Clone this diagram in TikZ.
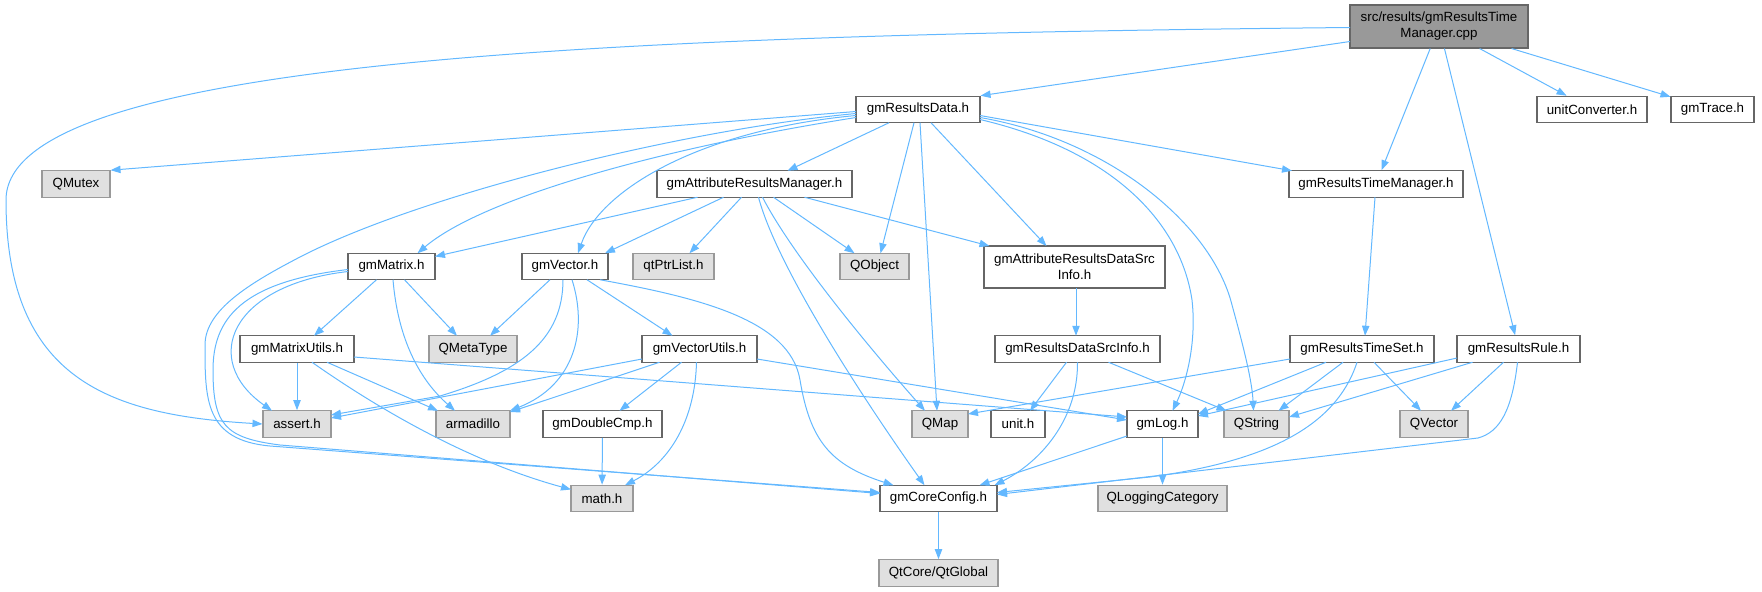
\documentclass[tikz,border=0pt]{standalone}
\usepackage{fontspec}
\setmainfont{Liberation Sans}
\usetikzlibrary{arrows.meta,calc}
\definecolor{edgec}{HTML}{63B8FF}
\definecolor{bordw}{HTML}{666666}
\definecolor{borde}{HTML}{999999}
\definecolor{extfill}{HTML}{E0E0E0}
\definecolor{mainfill}{HTML}{999999}
\begin{document}
\begin{tikzpicture}[x=0.75pt,y=-0.75pt,
  nd/.style={draw=bordw, fill=white, line width=0.8pt, minimum height=19.9pt, inner sep=0pt,
             font=\fontsize{10}{12}\selectfont, align=center},
  ext/.style={nd, draw=borde, fill=extfill},
  bw/.style={minimum width=#1*0.75pt},
  dep/.style={draw=edgec, line width=0.75pt, -{Triangle[length=7.5pt,width=5.5pt]}}]
\useasboundingbox (0,0) rectangle (1762,592);

% nodes
\node[nd, fill=mainfill, bw=178, minimum height=32.25pt] (main) at (1439,26.5) {src/results/gmResultsTime\\Manager.cpp};
\node[nd, bw=124] (rd) at (918,109.5) {gmResultsData.h};
\node[nd, bw=110] (uc) at (1592,109.5) {unitConverter.h};
\node[nd, bw=83] (tr) at (1712.5,109.5) {gmTrace.h};
\node[ext, bw=68] (qmutex) at (76,184) {QMutex};
\node[nd, bw=195] (arm) at (754.5,184) {gmAttributeResultsManager.h};
\node[nd, bw=174] (rtm) at (1376,184) {gmResultsTimeManager.h};
\node[nd, bw=87] (mat) at (391.5,266.5) {gmMatrix.h};
\node[nd, bw=86] (vec) at (565,266.5) {gmVector.h};
\node[ext, bw=81] (ptr) at (673.5,266.5) {qtPtrList.h};
\node[ext, bw=69] (qobj) at (874.5,266.5) {QObject};
\node[nd, bw=181, minimum height=31.5pt] (ards) at (1074.5,267) {gmAttributeResultsDataSrc\\Info.h};
\node[nd, bw=114] (mu) at (297,349) {gmMatrixUtils.h};
\node[ext, bw=88] (qmeta) at (473,349) {QMetaType};
\node[nd, bw=115] (vu) at (699.5,349) {gmVectorUtils.h};
\node[nd, bw=165] (rdsi) at (1077.5,349) {gmResultsDataSrcInfo.h};
\node[nd, bw=144] (rts) at (1362,349) {gmResultsTimeSet.h};
\node[nd, bw=123] (rr) at (1518.5,349) {gmResultsRule.h};
\node[ext, bw=68] (assert) at (297,424) {assert.h};
\node[ext, bw=74] (armad) at (473,424) {armadillo};
\node[nd, bw=119] (dc) at (602.5,424) {gmDoubleCmp.h};
\node[ext, bw=56] (qmap) at (940,424) {QMap};
\node[nd, bw=54] (unit) at (1018,424) {unit.h};
\node[nd, bw=71] (log) at (1162.5,424) {gmLog.h};
\node[ext, bw=65] (qstr) at (1256.5,424) {QString};
\node[ext, bw=68] (qvec) at (1434,424) {QVector};
\node[ext, bw=62] (math) at (602,498.5) {math.h};
\node[nd, bw=117] (cc) at (938.5,498.5) {gmCoreConfig.h};
\node[ext, bw=129] (qlog) at (1162.5,498.5) {QLoggingCategory};
\node[ext, bw=119] (qtg) at (938.5,573) {QtCore/QtGlobal};

% main edges
\draw[dep] ($(main)+(-89,1)$) .. controls (600,35) and (6,60) .. (6,200) .. controls (6,380) and (110,415) .. (assert.west);
\draw[dep] ($(main)+(-89,15)$) -- (rd.north east);
\draw[dep] (main) -- (rtm);
\draw[dep] (main) -- (rr);
\draw[dep] (main) -- (uc);
\draw[dep] (main) -- (tr);

% gmResultsData edges
\draw[dep] ($(rd)+(-62,2)$) -- (qmutex.north east);
\draw[dep] ($(rd)+(-62,4)$) .. controls (680,130) and (420,195) .. (300,257) .. controls (250,283) and (205,310) .. (205,345) .. controls (205,400) and (205,440) .. (270,446) -- ($(cc)+(-58.5,-6)$);
\draw[dep] ($(rd)+(-62,8)$) .. controls (650,150) and (480,200) .. ($(mat)+(26,-13.25)$);
\draw[dep] ($(rd)+(-62,6)$) .. controls (700,130) and (600,190) .. ($(vec)+(13,-13.25)$);
\draw[dep] ($(rd)+(-29,13.25)$) -- ($(arm)+(33,-13.25)$);
\draw[dep] ($(rd)+(-4,13.25)$) -- ($(qobj)+(6,-13.25)$);
\draw[dep] ($(rd)+(2,13.25)$) -- ($(qmap)+(-3,-13.25)$);
\draw[dep] ($(rd)+(13,13.25)$) -- ($(ards)+(-28,-21)$);
\draw[dep] ($(rd)+(62,10)$) .. controls (1110,150) and (1180,220) .. (1192,300) .. controls (1197,345) and (1185,385) .. ($(log)+(10,-13.25)$);
\draw[dep] ($(rd)+(62,8)$) .. controls (1110,140) and (1212,225) .. (1232,305) .. controls (1243,345) and (1252,380) .. ($(qstr)+(-3,-13.25)$);
\draw[dep] ($(rd)+(62,6)$) -- ($(rtm)+(-84,-13.25)$);

% gmAttributeResultsManager edges
\draw[dep] ($(arm)+(-57,13.25)$) -- ($(mat)+(43.5,-10)$);
\draw[dep] ($(arm)+(-31,13.25)$) -- ($(vec)+(40,-13.25)$);
\draw[dep] ($(arm)+(-13,13.25)$) -- ($(ptr)+(16,-13.25)$);
\draw[dep] ($(arm)+(4,13.25)$) .. controls (775,260) and (850,380) .. ($(cc)+(-14,-13.25)$);
\draw[dep] ($(arm)+(8,13.25)$) .. controls (795,260) and (880,360) .. ($(qmap)+(-15,-13.25)$);
\draw[dep] ($(arm)+(19,13.25)$) -- ($(qobj)+(-20,-13.25)$);
\draw[dep] ($(arm)+(50,13.25)$) -- ($(ards)+(-85,-21)$);

\draw[dep] ($(ards)+(1.5,21)$) -- ($(rdsi)+(-1.5,-13.25)$);

% gmMatrix edges
\draw[dep] ($(mat)+(-15,13.25)$) -- ($(mu)+(17,-13.25)$);
\draw[dep] ($(mat)+(13,13.25)$) -- ($(qmeta)+(-16,-13.25)$);
\draw[dep] ($(mat)+(1.5,13.25)$) .. controls (398,340) and (420,380) .. ($(armad)+(-18,-13.25)$);
\draw[dep] ($(mat)+(-43.5,5)$) .. controls (230,285) and (200,360) .. ($(assert)+(-25,-13.25)$);
\draw[dep] ($(mat)+(-43.5,3)$) .. controls (240,282) and (213,320) .. (213,370) .. controls (213,425) and (225,438) .. (280,445) -- ($(cc)+(-58.5,-5)$);

% gmVector edges
\draw[dep] ($(vec)+(-15,13.25)$) -- ($(qmeta)+(17,-13.25)$);
\draw[dep] ($(vec)+(-2,13.25)$) .. controls (563,340) and (520,372) .. (440,396) -- ($(assert)+(34,-9)$);
\draw[dep] ($(vec)+(7,13.25)$) .. controls (588,330) and (575,385) .. ($(armad)+(37,-13.25)$);
\draw[dep] ($(vec)+(22,13.25)$) -- ($(vu)+(-27,-13.25)$);
\draw[dep] ($(vec)+(35,13.25)$) .. controls (700,298) and (790,320) .. (800,380) .. controls (810,440) and (830,465) .. ($(cc)+(-45,-13.25)$);

% gmMatrixUtils edges
\draw[dep] (mu) -- (assert);
\draw[dep] ($(mu)+(30,13.25)$) -- ($(armad)+(-35,-13.25)$);
\draw[dep] ($(mu)+(15,13.25)$) .. controls (380,410) and (470,462) .. ($(math)+(-31,-9)$);
\draw[dep] ($(mu)+(57,8)$) -- ($(log)+(-35.5,-7)$);

% gmVectorUtils edges
\draw[dep] ($(vu)+(-57.5,10)$) -- ($(assert)+(34,-6)$);
\draw[dep] ($(vu)+(-40,13.25)$) -- ($(armad)+(37,-12)$);
\draw[dep] ($(vu)+(-18,13.25)$) -- ($(dc)+(17,-13.25)$);
\draw[dep] ($(vu)+(-3,13.25)$) .. controls (695,420) and (670,462) .. ($(math)+(23,-13.25)$);
\draw[dep] ($(vu)+(57.5,10)$) -- ($(log)+(-35.5,-4)$);

\draw[dep] (dc) -- (math);

% gmResultsDataSrcInfo edges
\draw[dep] ($(rdsi)+(-11,13.25)$) -- ($(unit)+(12,-13.25)$);
\draw[dep] ($(rdsi)+(0,13.25)$) .. controls (1078,420) and (1040,462) .. ($(cc)+(56,-13.25)$);
\draw[dep] ($(rdsi)+(31,13.25)$) -- ($(qstr)+(-30,-13.25)$);

% gmResultsTimeManager / TimeSet edges
\draw[dep] ($(rtm)+(-1,13.25)$) -- ($(rts)+(3,-13.25)$);
\draw[dep] ($(rts)+(-72,10)$) -- ($(qmap)+(28,-10)$);
\draw[dep] ($(rts)+(-36,13.25)$) -- ($(log)+(35.5,-10)$);
\draw[dep] ($(rts)+(-19,13.25)$) -- ($(qstr)+(22,-13.25)$);
\draw[dep] ($(rts)+(-5,13.25)$) .. controls (1335,430) and (1260,462) .. (1150,477) -- ($(cc)+(58.5,-6)$);
\draw[dep] ($(rts)+(12,13.25)$) -- ($(qvec)+(-13,-13.25)$);

% gmResultsRule edges
\draw[dep] ($(rr)+(-61.5,9)$) -- ($(log)+(35.5,-8)$);
\draw[dep] ($(rr)+(-46,13.25)$) -- ($(qstr)+(32.5,-7)$);
\draw[dep] ($(rr)+(-15,13.25)$) -- ($(qvec)+(17,-13.25)$);
\draw[dep] ($(rr)+(-1,13.25)$) .. controls (1512,410) and (1500,432) .. (1478,438) -- ($(cc)+(58.5,-4)$);

% gmLog, gmCoreConfig
\draw[dep] ($(log)+(-35.5,12)$) -- ($(cc)+(41,-13.25)$);
\draw[dep] (log) -- (qlog);
\draw[dep] (cc) -- (qtg);
\end{tikzpicture}
\end{document}
